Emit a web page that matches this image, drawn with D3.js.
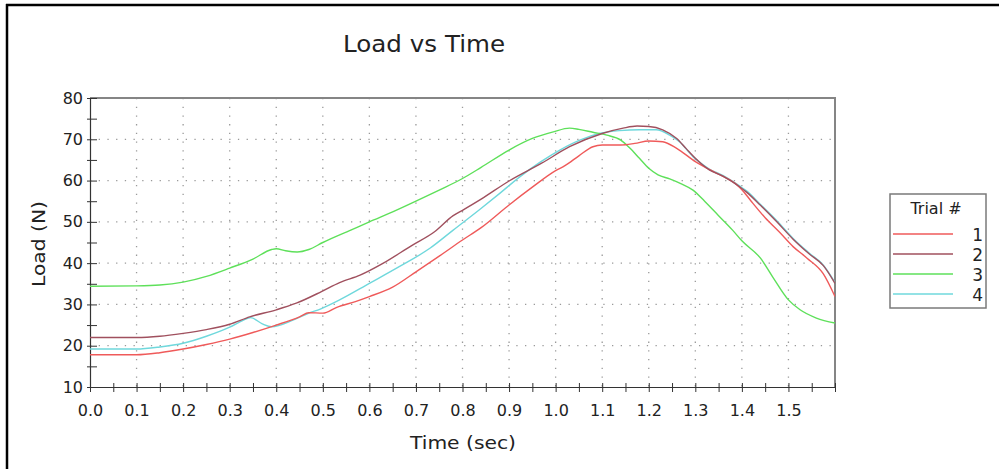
<!DOCTYPE html>
<html>
<head>
<meta charset="utf-8">
<script src="https://cdn.jsdelivr.net/npm/d3@7"></script>
<style>
  html, body { margin: 0; padding: 0; background: #fff; }
  svg { display: block; }
  text { font-family: "DejaVu Sans", Verdana, sans-serif; fill: #222; }
</style>
</head>
<body>
<svg id="chart" width="999" height="469"></svg>
<script>
// ---- Data ----
const trialNames = ["1", "2", "3", "4"];
const trialColors = ["#ef5a5a", "#a0505e", "#5ee05a", "#6fd8dc"];

const time1 = [0, 0.1, 0.15, 0.2, 0.25, 0.3, 0.35, 0.4, 0.45, 0.47, 0.5, 0.53, 0.57, 0.6, 0.65, 0.7, 0.75, 0.8, 0.84, 0.9, 0.95, 1.0, 1.02, 1.05, 1.08, 1.1, 1.14, 1.17, 1.2, 1.23, 1.26, 1.3, 1.33, 1.36, 1.39, 1.4, 1.42, 1.45, 1.48, 1.51, 1.54, 1.575, 1.6];
const load1 = [17.8, 17.8, 18.3, 19.2, 20.3, 21.6, 23.2, 25.0, 27.0, 28.0, 27.9, 29.3, 30.7, 31.9, 34.2, 37.9, 41.7, 45.6, 48.6, 54.1, 58.4, 62.4, 63.6, 66.0, 68.2, 68.6, 68.6, 69.0, 69.6, 69.4, 67.8, 64.6, 62.7, 61.0, 58.9, 57.8, 55.0, 51.0, 47.6, 44.0, 41.2, 37.4, 31.9];

const time2 = [0, 0.1, 0.15, 0.2, 0.25, 0.3, 0.343, 0.4, 0.443, 0.497, 0.536, 0.58, 0.63, 0.69, 0.74, 0.78, 0.8, 0.84, 0.9, 0.97, 1.03, 1.1, 1.145, 1.175, 1.2, 1.23, 1.26, 1.28, 1.3, 1.33, 1.36, 1.395, 1.41, 1.44, 1.475, 1.51, 1.545, 1.575, 1.6];
const load2 = [22.0, 22.0, 22.3, 23.0, 23.9, 25.2, 27.0, 28.7, 30.3, 33.1, 35.3, 37.1, 40.0, 44.2, 47.6, 51.5, 52.8, 55.5, 59.9, 64.2, 68.2, 71.4, 72.7, 73.2, 73.1, 72.3, 70.2, 67.8, 65.4, 62.6, 61.0, 58.5, 57.2, 54.0, 50.0, 45.8, 42.2, 39.4, 35.1];

const time3 = [0, 0.1, 0.15, 0.2, 0.25, 0.3, 0.35, 0.39, 0.4, 0.42, 0.445, 0.47, 0.5, 0.56, 0.6, 0.65, 0.7, 0.75, 0.8, 0.84, 0.9, 0.95, 0.995, 1.03, 1.05, 1.08, 1.11, 1.14, 1.16, 1.18, 1.2, 1.22, 1.245, 1.27, 1.295, 1.32, 1.35, 1.38, 1.4, 1.44, 1.466, 1.5, 1.525, 1.56, 1.6];
const load3 = [34.4, 34.5, 34.7, 35.4, 36.8, 38.8, 41.0, 43.3, 43.5, 43.0, 42.7, 43.3, 45.0, 48.0, 50.0, 52.4, 55.0, 57.7, 60.5, 63.2, 67.4, 70.2, 71.8, 72.7, 72.4, 71.7, 71.0, 69.8, 67.8, 65.4, 63.0, 61.4, 60.4, 59.2, 57.7, 55.0, 51.5, 48.0, 45.4, 41.2, 36.7, 31.1, 28.7, 26.7, 25.5];

const time4 = [0, 0.1, 0.15, 0.2, 0.25, 0.3, 0.33, 0.345, 0.37, 0.39, 0.436, 0.468, 0.497, 0.536, 0.6, 0.665, 0.73, 0.78, 0.837, 0.88, 0.923, 0.966, 1.009, 1.052, 1.094, 1.137, 1.18, 1.216, 1.245, 1.266, 1.295, 1.33, 1.36, 1.395, 1.41, 1.44, 1.475, 1.51, 1.545, 1.575, 1.6];
const load4 = [19.2, 19.2, 19.7, 20.6, 22.3, 24.5, 26.2, 26.8, 25.3, 24.6, 26.2, 27.8, 29.0, 31.1, 35.1, 39.2, 43.6, 48.0, 53.0, 56.9, 60.9, 64.4, 67.4, 69.8, 71.4, 72.1, 72.3, 72.3, 71.0, 69.4, 65.8, 62.8, 61.2, 58.7, 57.5, 54.2, 50.3, 46.0, 42.4, 39.5, 35.3];

const xMajorTicks = [0, 0.1, 0.2, 0.3, 0.4, 0.5, 0.6, 0.7, 0.8, 0.9, 1.0, 1.1, 1.2, 1.3, 1.4, 1.5];
const yMajorTicks = [10, 20, 30, 40, 50, 60, 70, 80];

const chartTitle = "Load vs Time";
const xTitle = "Time (sec)";
const yTitle = "Load (N)";
const legendTitle = "Trial #";

// ---- Layout ----
const svg = d3.select("#chart");
const plot = { left: 90, right: 835, top: 98, bottom: 387 };

const x = d3.scaleLinear().domain([0, 1.6]).range([plot.left, plot.right]);
const y = d3.scaleLinear().domain([10, 80]).range([plot.bottom, plot.top]);

// outer frame (top and left visible)
svg.append("line").attr("x1", 6).attr("x2", 999).attr("y1", 5).attr("y2", 5)
  .attr("stroke", "#000").attr("stroke-width", 2.5);
svg.append("line").attr("x1", 7).attr("x2", 7).attr("y1", 4).attr("y2", 469)
  .attr("stroke", "#000").attr("stroke-width", 2.5);

// title
svg.append("text").attr("x", 424).attr("y", 52).attr("text-anchor", "middle")
  .style("font-size", "23px").attr("textLength", 162).attr("lengthAdjust", "spacingAndGlyphs")
  .text(chartTitle);

// grid (dotted)
const gridGroup = svg.append("g");
xMajorTicks.filter(t => t > 0).forEach(t => {
  gridGroup.append("line")
    .attr("x1", x(t)).attr("x2", x(t)).attr("y1", plot.top).attr("y2", plot.bottom)
    .attr("stroke", "#9a9a9a").attr("stroke-width", 1.3).attr("stroke-dasharray", "1.3,7.4");
});
yMajorTicks.filter(v => v > 10 && v < 80).forEach(v => {
  gridGroup.append("line")
    .attr("x1", plot.left).attr("x2", plot.right).attr("y1", y(v)).attr("y2", y(v))
    .attr("stroke", "#9a9a9a").attr("stroke-width", 1.3).attr("stroke-dasharray", "1.3,7.4");
});

// plot top/right border
svg.append("path")
  .attr("d", `M${plot.left},${plot.top}H${plot.right}V${plot.bottom}`)
  .attr("fill", "none").attr("stroke", "#858585").attr("stroke-width", 2);

// axes
const xAxis = d3.axisBottom(x).tickValues(d3.range(0, 33).map(i => i * 0.05))
  .tickSize(0).tickFormat("");
const xg = svg.append("g").attr("transform", `translate(0,${plot.bottom})`).call(xAxis);
xg.select(".domain").attr("stroke", "#333").attr("stroke-width", 1.2);
xg.selectAll(".tick line").attr("y1", -4).attr("y2", 5).attr("stroke", "#333");

const xLab = svg.append("g").attr("transform", `translate(0,${plot.bottom})`)
  .call(d3.axisBottom(x).tickValues(xMajorTicks).tickSize(0).tickPadding(0).tickFormat(d3.format(".1f")));
xLab.select(".domain").remove();
xLab.selectAll(".tick text").attr("y", 29).attr("dy", 0)
  .style("font-size", "16px").style("font-family", "DejaVu Sans, Verdana, sans-serif").attr("fill", "#222");

const yAxis = d3.axisLeft(y).tickValues(d3.range(10, 81, 5)).tickSize(0).tickFormat("");
const yg = svg.append("g").attr("transform", `translate(${plot.left},0)`).call(yAxis);
yg.select(".domain").attr("stroke", "#333").attr("stroke-width", 1.2);
yg.selectAll(".tick line").attr("x1", -3).attr("x2", 7).attr("stroke", "#333");

const yLab = svg.append("g").attr("transform", `translate(${plot.left},0)`)
  .call(d3.axisLeft(y).tickValues(yMajorTicks).tickSize(0).tickPadding(7).tickFormat(d3.format("d")));
yLab.select(".domain").remove();
yLab.selectAll(".tick text").style("font-size", "16px")
  .style("font-family", "DejaVu Sans, Verdana, sans-serif").attr("fill", "#222");

// axis titles
svg.append("text").attr("x", 463).attr("y", 449).attr("text-anchor", "middle")
  .style("font-size", "18px").attr("textLength", 106).attr("lengthAdjust", "spacingAndGlyphs")
  .text(xTitle);
svg.append("text").attr("transform", "translate(45,244) rotate(-90)").attr("text-anchor", "middle")
  .style("font-size", "18px").attr("textLength", 86).attr("lengthAdjust", "spacingAndGlyphs")
  .text(yTitle);

// series
const seriesTimes = [time1, time2, time3, time4];
const seriesLoads = [load1, load2, load3, load4];
const line = d3.line().x(d => x(d[0])).y(d => y(d[1])).curve(d3.curveMonotoneX);
svg.append("clipPath").attr("id", "clip").append("rect")
  .attr("x", plot.left).attr("y", plot.top).attr("width", plot.right - plot.left).attr("height", plot.bottom - plot.top);
const drawOrder = [3, 2, 0, 1];
drawOrder.forEach(i => {
  const pts = seriesTimes[i].map((t, k) => [t, seriesLoads[i][k]]);
  svg.append("path").datum(pts).attr("d", line)
    .attr("clip-path", "url(#clip)")
    .attr("fill", "none").attr("stroke", trialColors[i]).attr("stroke-width", 1.4);
});

// legend
const lg = svg.append("g");
lg.append("rect").attr("x", 890).attr("y", 194).attr("width", 96).attr("height", 114)
  .attr("fill", "#fff").attr("stroke", "#7a7a7a").attr("stroke-width", 1.5);
lg.append("text").attr("x", 936).attr("y", 214).attr("text-anchor", "middle")
  .style("font-size", "16px").text(legendTitle);
trialNames.forEach((name, i) => {
  const ly = 234 + i * 20;
  lg.append("line").attr("x1", 893).attr("x2", 953).attr("y1", ly).attr("y2", ly)
    .attr("stroke", trialColors[i]).attr("stroke-width", 1.4);
  lg.append("text").attr("x", 983).attr("y", ly + 7).attr("text-anchor", "end")
    .style("font-size", "17px").text(name);
});
</script>
</body>
</html>
